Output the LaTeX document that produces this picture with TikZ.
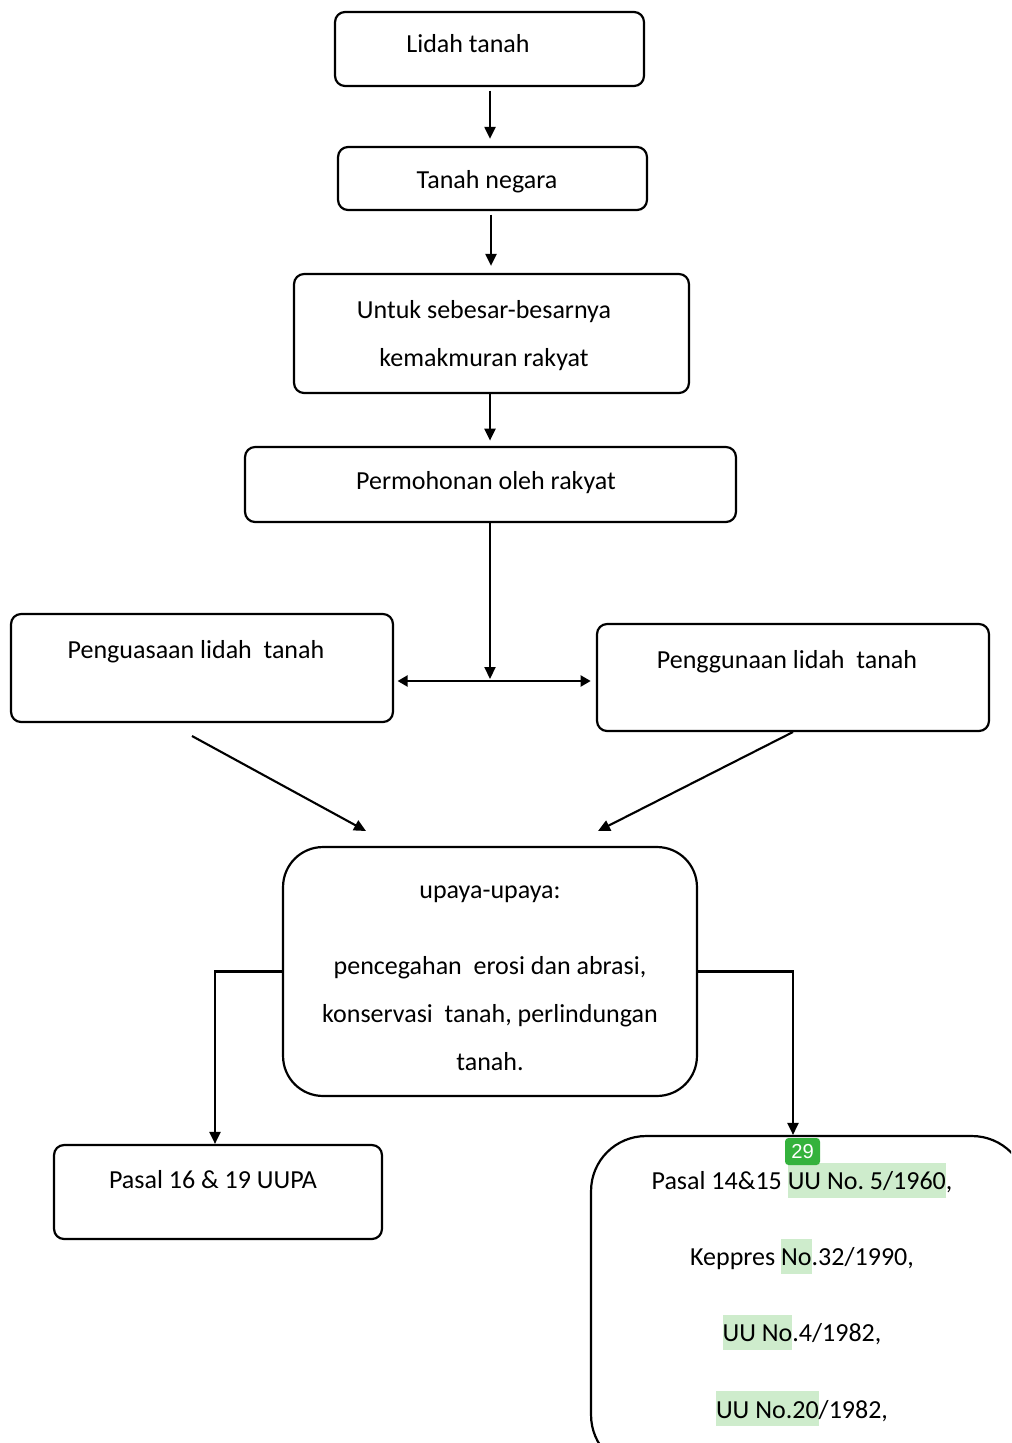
\documentclass[tikz,border=0pt]{standalone}
\usepackage{fontspec}
\setmainfont{Carlito}
\newfontfamily\badgefont{Liberation Sans}
\usetikzlibrary{arrows.meta}
\frenchspacing

\definecolor{hlgreen}{RGB}{206,236,204}
\definecolor{badgegreen}{RGB}{52,178,60}
\newcommand{\hlt}[1]{{\setlength{\fboxsep}{0pt}\colorbox{hlgreen}{\rule[-0.3em]{0pt}{1.32em}#1}}}

\begin{document}
\begin{tikzpicture}[
    x=0.02cm, y=-0.02cm,
    box/.style={
        rectangle,
        draw,
        line width=1.25pt,
        rounded corners=0.2cm,
        inner sep=0pt
    },
    txt/.style={
        font=\fontsize{14.8}{27.3}\selectfont,
        inner sep=0pt,
        align=center,
        anchor=base
    },
    arrow/.style={
        -{Triangle[length=0.24cm,width=0.22cm]},
        line width=1.2pt
    }
]
\useasboundingbox (0,0) rectangle (1011,1443);
\clip (0,0) rectangle (1011,1443);

% Top chain
\node[box, minimum width=6.18cm, minimum height=1.48cm] (lidah) at (489.5,49) {};
\node[txt] (lidahtxt) at (468,53) {Lidah tanah};

\node[box, minimum width=6.18cm, minimum height=1.26cm] (negara) at (492.5,178.5) {};
\node[txt] (negaratxt) at (487,188) {Tanah negara};

\node[box, minimum width=7.9cm, minimum height=2.38cm] (untuk) at (491.5,333.5) {};
\node[txt] (untuktxt) at (484,366) {Untuk sebesar-besarnya\\kemakmuran rakyat};

\node[box, minimum width=9.82cm, minimum height=1.5cm] (mohon) at (490.5,484.5) {};
\node[txt] (mohontxt) at (486,489) {Permohonan oleh rakyat};

% Middle row
\node[box, minimum width=7.64cm, minimum height=2.16cm] (kuasa) at (202,668) {};
\node[txt] (kuasatxt) at (196,658) {Penguasaan lidah\ \ tanah};

\node[box, minimum width=7.84cm, minimum height=2.14cm] (guna) at (793,677.5) {};
\node[txt] (gunatxt) at (787,668) {Penggunaan lidah\ \ tanah};

% Upaya
\node[box, rounded corners=0.8cm, minimum width=8.28cm, minimum height=4.98cm] (upaya) at (490,971.5) {};
\node[txt] (upayatxt) at (490,1070) {upaya-upaya:\\[16pt]
    pencegahan\ \ erosi dan abrasi,\\
    konservasi\ \ tanah, perlindungan\\
    tanah.};

% Bottom row
\node[box, minimum width=6.56cm, minimum height=1.88cm] (pasal) at (218,1192) {};
\node[txt] (pasaltxt) at (213,1188) {Pasal 16 \& 19 UUPA};

\node[box, rounded corners=1.1cm, minimum width=8.72cm, minimum height=6.68cm] (uu) at (809,1303) {};
\node[txt] (uutxt) at (802,1418) {Pasal 14\&15 \hlt{UU No. 5/1960},\\[16pt]
    Keppres \hlt{No}.32/1990,\\[16pt]
    \hlt{UU No}.4/1982,\\[16pt]
    \hlt{UU No.20}/1982,};

% Badge
\node[fill=badgegreen, rounded corners=2pt, minimum width=0.7cm, minimum height=0.54cm,
      inner sep=0pt, text=white, font=\badgefont\fontsize{11.5}{12}\selectfont] (badge) at (802.5,1151.5) {29};

% Arrows
\draw[arrow, shorten <=2pt, shorten >=4pt] (lidah.south -| 490,0) -- (negara.north -| 490,0);
\draw[arrow, shorten <=2pt, shorten >=4pt] (negara.south -| 491,0) -- (untuk.north -| 491,0);
\draw[arrow, shorten >=3pt] (untuk.south -| 490,0) -- (mohon.north -| 490,0);

\coordinate (mid) at (490,681);
\draw[arrow] (mohon.south -| mid) -- ([yshift=0.04cm]mid);
\draw[{Triangle[length=0.2cm,width=0.22cm]}-{Triangle[length=0.2cm,width=0.22cm]}, line width=1.2pt,
      shorten <=2pt, shorten >=3pt] (kuasa.east |- mid) -- (guna.west |- mid);

\coordinate (kuasaout) at (192,736);
\coordinate (kuasain) at (366,831);
\coordinate (gunaout) at (793,732);
\coordinate (gunain) at (598,831);
\draw[arrow] (kuasaout) -- (kuasain);
\draw[arrow] (gunaout) -- (gunain);

\draw[arrow] (upaya.west) -| ([xshift=-0.06cm]pasal.north);
\draw[arrow] (upaya.east) -| ([xshift=-0.32cm]uu.north);

\end{tikzpicture}
\end{document}
